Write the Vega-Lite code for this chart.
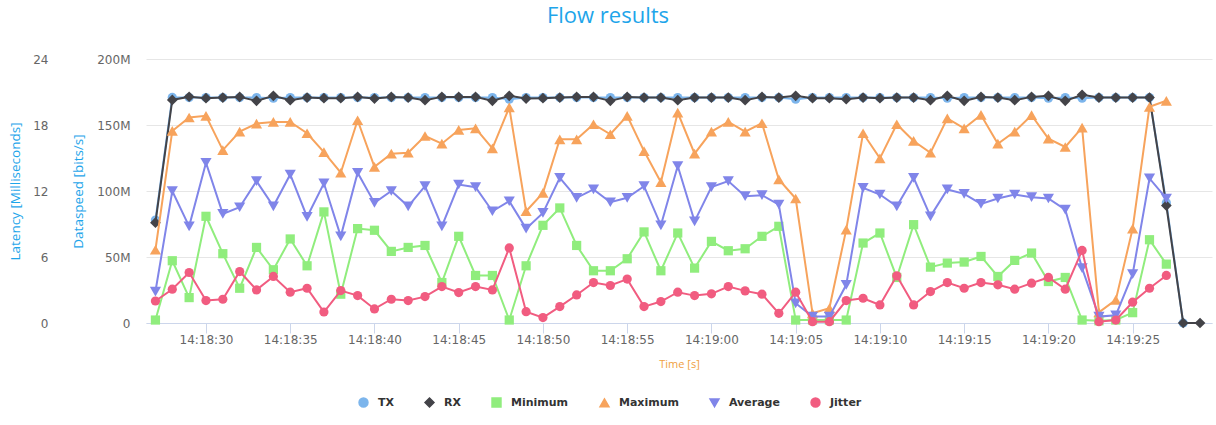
{
  "$schema": "https://vega.github.io/schema/vega-lite/v6.json",
  "width": 1066,
  "height": 264,
  "autosize": {"type": "none"},
  "padding": {"left": 146, "top": 59, "right": 4, "bottom": 102},
  "background": "white",
  "config": {"view": {"stroke": null}},
  "title": {"text": "Flow results", "font": "Open Sans", "fontSize": 22, "fontWeight": "normal", "color": "#1ea5ea", "anchor": "middle", "dx": -71, "offset": 25},
  "data": {"values": [
    {"t":"2024-01-01T14:18:27","TX":78000000,"RX":76000000,"Minimum":0.27,"Maximum":6.66,"Average":2.86,"Jitter":2.0},
    {"t":"2024-01-01T14:18:28","TX":170900000,"RX":169000000,"Minimum":5.66,"Maximum":17.46,"Average":12.0,"Jitter":3.07},
    {"t":"2024-01-01T14:18:29","TX":170800000,"RX":171400000,"Minimum":2.31,"Maximum":18.68,"Average":8.79,"Jitter":4.59},
    {"t":"2024-01-01T14:18:30","TX":170800000,"RX":170300000,"Minimum":9.7,"Maximum":18.83,"Average":14.57,"Jitter":2.04},
    {"t":"2024-01-01T14:18:31","TX":170800000,"RX":170800000,"Minimum":6.3,"Maximum":15.72,"Average":9.92,"Jitter":2.16},
    {"t":"2024-01-01T14:18:32","TX":170800000,"RX":171300000,"Minimum":3.16,"Maximum":17.4,"Average":10.52,"Jitter":4.68},
    {"t":"2024-01-01T14:18:33","TX":170800000,"RX":168300000,"Minimum":6.87,"Maximum":18.13,"Average":12.9,"Jitter":3.01},
    {"t":"2024-01-01T14:18:34","TX":170300000,"RX":172100000,"Minimum":4.84,"Maximum":18.28,"Average":10.61,"Jitter":4.23},
    {"t":"2024-01-01T14:18:35","TX":170800000,"RX":168800000,"Minimum":7.64,"Maximum":18.28,"Average":13.5,"Jitter":2.8},
    {"t":"2024-01-01T14:18:36","TX":170800000,"RX":170800000,"Minimum":5.2,"Maximum":17.25,"Average":9.64,"Jitter":3.16},
    {"t":"2024-01-01T14:18:37","TX":170800000,"RX":170300000,"Minimum":10.1,"Maximum":15.54,"Average":12.7,"Jitter":1.0},
    {"t":"2024-01-01T14:18:38","TX":170800000,"RX":170300000,"Minimum":2.62,"Maximum":13.66,"Average":7.88,"Jitter":2.95},
    {"t":"2024-01-01T14:18:39","TX":170800000,"RX":171300000,"Minimum":8.58,"Maximum":18.43,"Average":13.66,"Jitter":2.49},
    {"t":"2024-01-01T14:18:40","TX":170800000,"RX":170000000,"Minimum":8.43,"Maximum":14.2,"Average":10.92,"Jitter":1.28},
    {"t":"2024-01-01T14:18:41","TX":170800000,"RX":171300000,"Minimum":6.51,"Maximum":15.39,"Average":12.0,"Jitter":2.16},
    {"t":"2024-01-01T14:18:42","TX":170800000,"RX":170800000,"Minimum":6.87,"Maximum":15.48,"Average":10.61,"Jitter":2.04},
    {"t":"2024-01-01T14:18:43","TX":170800000,"RX":168800000,"Minimum":7.05,"Maximum":17.0,"Average":12.44,"Jitter":2.4},
    {"t":"2024-01-01T14:18:44","TX":170800000,"RX":171300000,"Minimum":3.68,"Maximum":16.3,"Average":8.79,"Jitter":3.31},
    {"t":"2024-01-01T14:18:45","TX":170800000,"RX":171300000,"Minimum":7.88,"Maximum":17.55,"Average":12.59,"Jitter":2.77},
    {"t":"2024-01-01T14:18:46","TX":170800000,"RX":171300000,"Minimum":4.32,"Maximum":17.7,"Average":12.35,"Jitter":3.31},
    {"t":"2024-01-01T14:18:47","TX":170800000,"RX":168300000,"Minimum":4.32,"Maximum":15.88,"Average":10.16,"Jitter":3.01},
    {"t":"2024-01-01T14:18:48","TX":169600000,"RX":172100000,"Minimum":0.27,"Maximum":19.6,"Average":11.07,"Jitter":6.82},
    {"t":"2024-01-01T14:18:49","TX":170800000,"RX":170000000,"Minimum":5.2,"Maximum":10.16,"Average":8.58,"Jitter":1.03},
    {"t":"2024-01-01T14:18:50","TX":170800000,"RX":170300000,"Minimum":8.88,"Maximum":11.83,"Average":10.01,"Jitter":0.49},
    {"t":"2024-01-01T14:18:51","TX":170800000,"RX":170800000,"Minimum":10.46,"Maximum":16.7,"Average":13.2,"Jitter":1.49},
    {"t":"2024-01-01T14:18:52","TX":170800000,"RX":171300000,"Minimum":7.05,"Maximum":16.7,"Average":11.38,"Jitter":2.55},
    {"t":"2024-01-01T14:18:53","TX":170800000,"RX":171300000,"Minimum":4.75,"Maximum":18.07,"Average":12.14,"Jitter":3.68},
    {"t":"2024-01-01T14:18:54","TX":170800000,"RX":168300000,"Minimum":4.75,"Maximum":17.16,"Average":10.98,"Jitter":3.41},
    {"t":"2024-01-01T14:18:55","TX":170800000,"RX":171300000,"Minimum":5.84,"Maximum":18.83,"Average":11.38,"Jitter":3.99},
    {"t":"2024-01-01T14:18:56","TX":170800000,"RX":170800000,"Minimum":8.28,"Maximum":15.63,"Average":12.44,"Jitter":1.49},
    {"t":"2024-01-01T14:18:57","TX":170800000,"RX":170800000,"Minimum":4.75,"Maximum":12.8,"Average":8.88,"Jitter":1.95},
    {"t":"2024-01-01T14:18:58","TX":170800000,"RX":168800000,"Minimum":8.18,"Maximum":19.13,"Average":14.27,"Jitter":2.8},
    {"t":"2024-01-01T14:18:59","TX":170800000,"RX":170800000,"Minimum":4.99,"Maximum":15.39,"Average":9.24,"Jitter":2.49},
    {"t":"2024-01-01T14:19:00","TX":170800000,"RX":170800000,"Minimum":7.42,"Maximum":17.4,"Average":12.35,"Jitter":2.65},
    {"t":"2024-01-01T14:19:01","TX":170800000,"RX":170800000,"Minimum":6.57,"Maximum":18.28,"Average":12.9,"Jitter":3.31},
    {"t":"2024-01-01T14:19:02","TX":170800000,"RX":168800000,"Minimum":6.75,"Maximum":17.4,"Average":11.53,"Jitter":2.92},
    {"t":"2024-01-01T14:19:03","TX":170800000,"RX":171300000,"Minimum":7.88,"Maximum":18.16,"Average":11.62,"Jitter":2.62},
    {"t":"2024-01-01T14:19:04","TX":170800000,"RX":170800000,"Minimum":8.79,"Maximum":13.05,"Average":10.77,"Jitter":0.88},
    {"t":"2024-01-01T14:19:05","TX":169600000,"RX":172100000,"Minimum":0.27,"Maximum":11.32,"Average":1.79,"Jitter":2.8},
    {"t":"2024-01-01T14:19:06","TX":170800000,"RX":170300000,"Minimum":0.27,"Maximum":0.88,"Average":0.58,"Jitter":0.12},
    {"t":"2024-01-01T14:19:07","TX":170800000,"RX":170300000,"Minimum":0.27,"Maximum":1.34,"Average":0.58,"Jitter":0.12},
    {"t":"2024-01-01T14:19:08","TX":170800000,"RX":169600000,"Minimum":0.27,"Maximum":8.49,"Average":3.47,"Jitter":2.04},
    {"t":"2024-01-01T14:19:09","TX":170800000,"RX":170800000,"Minimum":7.27,"Maximum":17.25,"Average":12.29,"Jitter":2.25},
    {"t":"2024-01-01T14:19:10","TX":170800000,"RX":170300000,"Minimum":8.18,"Maximum":14.97,"Average":11.68,"Jitter":1.64},
    {"t":"2024-01-01T14:19:11","TX":170800000,"RX":170800000,"Minimum":4.14,"Maximum":18.07,"Average":10.61,"Jitter":4.29},
    {"t":"2024-01-01T14:19:12","TX":170800000,"RX":170800000,"Minimum":8.94,"Maximum":16.55,"Average":13.2,"Jitter":1.64},
    {"t":"2024-01-01T14:19:13","TX":170800000,"RX":168800000,"Minimum":5.08,"Maximum":15.48,"Average":9.7,"Jitter":2.86},
    {"t":"2024-01-01T14:19:14","TX":170300000,"RX":172100000,"Minimum":5.45,"Maximum":18.6,"Average":12.14,"Jitter":3.68},
    {"t":"2024-01-01T14:19:15","TX":170800000,"RX":168300000,"Minimum":5.54,"Maximum":17.7,"Average":11.74,"Jitter":3.16},
    {"t":"2024-01-01T14:19:16","TX":170800000,"RX":171300000,"Minimum":6.05,"Maximum":18.92,"Average":10.83,"Jitter":3.68},
    {"t":"2024-01-01T14:19:17","TX":170800000,"RX":170800000,"Minimum":4.23,"Maximum":16.3,"Average":11.32,"Jitter":3.47},
    {"t":"2024-01-01T14:19:18","TX":170800000,"RX":168800000,"Minimum":5.69,"Maximum":17.4,"Average":11.68,"Jitter":3.07},
    {"t":"2024-01-01T14:19:19","TX":170800000,"RX":171300000,"Minimum":6.36,"Maximum":18.89,"Average":11.44,"Jitter":3.62},
    {"t":"2024-01-01T14:19:20","TX":170300000,"RX":172100000,"Minimum":3.77,"Maximum":16.76,"Average":11.32,"Jitter":4.14},
    {"t":"2024-01-01T14:19:21","TX":170800000,"RX":168300000,"Minimum":4.14,"Maximum":16.0,"Average":10.31,"Jitter":3.07},
    {"t":"2024-01-01T14:19:22","TX":170300000,"RX":172900000,"Minimum":0.27,"Maximum":17.76,"Average":4.99,"Jitter":6.6},
    {"t":"2024-01-01T14:19:23","TX":170800000,"RX":170800000,"Minimum":0.2,"Maximum":0.97,"Average":0.58,"Jitter":0.12},
    {"t":"2024-01-01T14:19:24","TX":170800000,"RX":170800000,"Minimum":0.27,"Maximum":2.1,"Average":0.7,"Jitter":0.27},
    {"t":"2024-01-01T14:19:25","TX":170800000,"RX":170800000,"Minimum":0.94,"Maximum":8.58,"Average":4.44,"Jitter":1.89},
    {"t":"2024-01-01T14:19:26","TX":170800000,"RX":170800000,"Minimum":7.57,"Maximum":19.65,"Average":13.14,"Jitter":3.16},
    {"t":"2024-01-01T14:19:27","TX":91000000,"RX":89000000,"Minimum":5.35,"Maximum":20.2,"Average":11.32,"Jitter":4.32},
    {"t":"2024-01-01T14:19:28","TX":0,"RX":0},
    {"t":"2024-01-01T14:19:29","RX":0}
  ]},
  "transform": [
    {"fold": ["TX", "RX", "Minimum", "Maximum", "Average", "Jitter"], "as": ["series", "value"]},
    {"filter": "isValid(datum.value)"}
  ],
  "encoding": {
    "x": {
      "field": "t", "type": "temporal", "title": "Time [s]",
      "scale": {"domain": [
        {"year": 2024, "month": 1, "date": 1, "hours": 14, "minutes": 18, "seconds": 26, "milliseconds": 440},
        {"year": 2024, "month": 1, "date": 1, "hours": 14, "minutes": 19, "seconds": 29, "milliseconds": 710}
      ]},
      "axis": {
        "format": "%H:%M:%S",
        "values": [
          {"year": 2024, "month": 1, "date": 1, "hours": 14, "minutes": 18, "seconds": 30},
          {"year": 2024, "month": 1, "date": 1, "hours": 14, "minutes": 18, "seconds": 35},
          {"year": 2024, "month": 1, "date": 1, "hours": 14, "minutes": 18, "seconds": 40},
          {"year": 2024, "month": 1, "date": 1, "hours": 14, "minutes": 18, "seconds": 45},
          {"year": 2024, "month": 1, "date": 1, "hours": 14, "minutes": 18, "seconds": 50},
          {"year": 2024, "month": 1, "date": 1, "hours": 14, "minutes": 18, "seconds": 55},
          {"year": 2024, "month": 1, "date": 1, "hours": 14, "minutes": 19, "seconds": 0},
          {"year": 2024, "month": 1, "date": 1, "hours": 14, "minutes": 19, "seconds": 5},
          {"year": 2024, "month": 1, "date": 1, "hours": 14, "minutes": 19, "seconds": 10},
          {"year": 2024, "month": 1, "date": 1, "hours": 14, "minutes": 19, "seconds": 15},
          {"year": 2024, "month": 1, "date": 1, "hours": 14, "minutes": 19, "seconds": 20},
          {"year": 2024, "month": 1, "date": 1, "hours": 14, "minutes": 19, "seconds": 25}
        ],
        "grid": false, "domainColor": "#ccd6eb", "tickColor": "#ccd6eb", "tickSize": 10,
        "labelPadding": 1, "labelColor": "#666666", "labelFont": "DejaVu Sans", "labelFontSize": 12,
        "labelFlush": false, "labelOverlap": false,
        "titleColor": "#f0a040", "titleFont": "Open Sans", "titleFontSize": 11, "titleFontWeight": "normal", "titlePadding": 13
      }
    },
    "color": {
      "field": "series", "type": "nominal",
      "scale": {"domain": ["TX", "RX", "Minimum", "Maximum", "Average", "Jitter"],
                "range": ["#7cb5ec", "#434348", "#90ed7d", "#f7a35c", "#8085e9", "#f15c80"]},
      "legend": {
        "orient": "none", "legendX": 212, "legendY": 338, "padding": 0, "direction": "horizontal", "title": null,
        "labelFont": "DejaVu Sans", "labelFontWeight": "bold", "labelFontSize": 11, "labelColor": "#333333",
        "symbolSize": 80, "labelOffset": 9, "columnPadding": 28
      }
    }
  },
  "layer": [
    {
      "encoding": {
        "y": {
          "field": "value", "type": "quantitative", "title": "Dataspeed [bits/s]",
          "scale": {"domain": [0, 200000000], "nice": false},
          "axis": {
            "orient": "left", "values": [0, 50000000, 100000000, 150000000, 200000000], "format": "~s",
            "labelExpr": "datum.value === 0 ? '0' : datum.label",
            "grid": true, "gridColor": "#e6e6e6", "domain": false, "ticks": false,
            "labelPadding": 16, "labelColor": "#666666", "labelFont": "DejaVu Sans", "labelFontSize": 12,
            "titleColor": "#1ea5ea", "titleFont": "Open Sans", "titleFontSize": 13.5, "titleFontWeight": "normal",
            "titleX": -61, "titleY": 132
          }
        }
      },
      "layer": [
        {"transform": [{"filter": "datum.series === 'TX'"}], "mark": {"type": "line", "strokeWidth": 2}},
        {"transform": [{"filter": "datum.series === 'TX'"}], "mark": {"type": "point", "shape": "circle", "filled": true, "opacity": 1, "size": 85}},
        {"transform": [{"filter": "datum.series === 'RX'"}], "mark": {"type": "line", "strokeWidth": 2}},
        {"transform": [{"filter": "datum.series === 'RX'"}], "mark": {"type": "point", "shape": "diamond", "filled": true, "opacity": 1, "size": 115}}
      ]
    },
    {
      "encoding": {
        "y": {
          "field": "value", "type": "quantitative", "title": "Latency [Milliseconds]",
          "scale": {"domain": [0, 24], "nice": false},
          "axis": {
            "orient": "left", "values": [0, 6, 12, 18, 24],
            "grid": false, "domain": false, "ticks": false,
            "labelPadding": 98, "labelColor": "#666666", "labelFont": "DejaVu Sans", "labelFontSize": 12,
            "titleColor": "#1ea5ea", "titleFont": "Open Sans", "titleFontSize": 13.5, "titleFontWeight": "normal",
            "titleX": -124, "titleY": 132
          }
        }
      },
      "layer": [
        {"transform": [{"filter": "datum.series === 'Minimum'"}], "mark": {"type": "line", "strokeWidth": 2}},
        {"transform": [{"filter": "datum.series === 'Minimum'"}], "mark": {"type": "point", "shape": "square", "filled": true, "opacity": 1, "size": 85}},
        {"transform": [{"filter": "datum.series === 'Maximum'"}], "mark": {"type": "line", "strokeWidth": 2}},
        {"transform": [{"filter": "datum.series === 'Maximum'"}], "mark": {"type": "point", "shape": "triangle-up", "filled": true, "opacity": 1, "size": 125}},
        {"transform": [{"filter": "datum.series === 'Average'"}], "mark": {"type": "line", "strokeWidth": 2}},
        {"transform": [{"filter": "datum.series === 'Average'"}], "mark": {"type": "point", "shape": "triangle-down", "filled": true, "opacity": 1, "size": 125}},
        {"transform": [{"filter": "datum.series === 'Jitter'"}], "mark": {"type": "line", "strokeWidth": 2}},
        {
          "mark": {"type": "point", "filled": true, "opacity": 1, "size": 85},
          "transform": [{"filter": "datum.series === 'Jitter'"}],
          "encoding": {
            "shape": {
              "field": "series", "type": "nominal",
              "scale": {"domain": ["TX", "RX", "Minimum", "Maximum", "Average", "Jitter"],
                        "range": ["circle", "diamond", "square", "triangle-up", "triangle-down", "circle"]},
              "legend": {
                "orient": "none", "legendX": 212, "legendY": 338, "padding": 0, "direction": "horizontal", "title": null,
                "labelFont": "DejaVu Sans", "labelFontWeight": "bold", "labelFontSize": 11, "labelColor": "#333333",
                "symbolSize": 80, "labelOffset": 9, "columnPadding": 28
              }
            }
          }
        }
      ]
    }
  ],
  "resolve": {"scale": {"y": "independent"}}
}
